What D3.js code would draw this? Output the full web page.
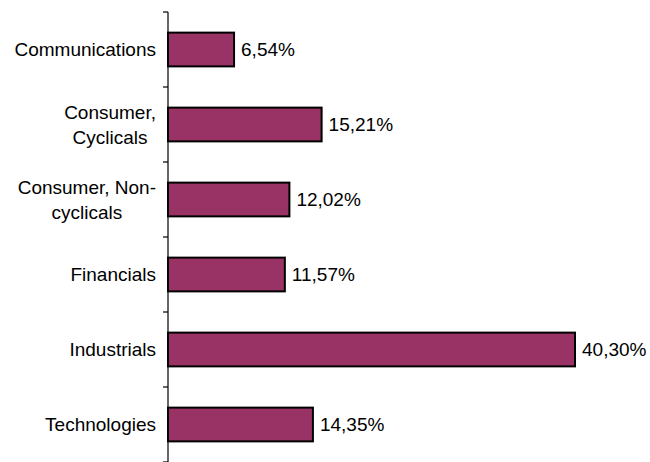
<!DOCTYPE html>
<html><head><meta charset="utf-8">
<script src="https://cdn.jsdelivr.net/npm/d3@7"></script>
<style>body{margin:0;background:#fff}svg{display:block}text{font-family:"Liberation Sans",Arial,sans-serif;font-size:19px;fill:#000}</style>
</head><body><svg id="c" width="650" height="462"></svg>
<script>
const categories = [["Communications"],["Consumer,","Cyclicals"],["Consumer, Non-","cyclicals"],["Financials"],["Industrials"],["Technologies"]];
const values = [6.54, 15.21, 12.02, 11.57, 40.30, 14.35];
const valueLabels = ["6,54%","15,21%","12,02%","11,57%","40,30%","14,35%"];

(function(){
const svg = d3.select("#c");
const x0 = 168, yTop = 12, yBottom = 462;
const x = d3.scaleLinear().domain([0, 40.30]).range([x0, 575]);
const y = d3.scaleBand().domain(d3.range(categories.length)).range([yTop, yBottom]).paddingInner(0.55).paddingOuter(0.275);
const yb = d3.scaleBand().domain(d3.range(categories.length)).range([yTop, yBottom]);

svg.selectAll("rect.bar").data(values).enter().append("rect")
  .attr("x", x0).attr("y", (d,i)=>y(i)).attr("width", d=>x(d)-x0).attr("height", y.bandwidth())
  .attr("fill", "#993366").attr("stroke", "#000").attr("stroke-width", 2);

svg.append("line").attr("x1", x0).attr("x2", x0).attr("y1", yTop).attr("y2", yBottom).attr("stroke","#000").attr("stroke-width",1.2);
const ticks = d3.range(categories.length+1).map(i => yTop + i*yb.step());
svg.selectAll("line.tk").data(ticks).enter().append("line")
  .attr("x1", x0-5).attr("x2", x0).attr("y1", d=>d).attr("y2", d=>d).attr("stroke","#000").attr("stroke-width",1.2);

svg.selectAll("text.val").data(values).enter().append("text")
  .attr("x", d=>x(d)+7).attr("y", (d,i)=>y(i)+y.bandwidth()/2).attr("dy","0.35em")
  .text((d,i)=>valueLabels[i]);

const lh = 25;
categories.forEach((lines,i)=>{
  const cy = yb(i) + yb.bandwidth()/2;
  const g = svg.append("g");
  const t = g.append("text").attr("text-anchor","middle");
  lines.forEach((ln,j)=>{
    t.append("tspan").attr("x",0).attr("y", cy + (j - (lines.length-1)/2)*lh).attr("dy","0.35em").text(ln);
  });
  const w = t.node().getBBox().width;
  g.attr("transform", `translate(${156 - w/2},0)`);
});
})();
</script></body></html>
